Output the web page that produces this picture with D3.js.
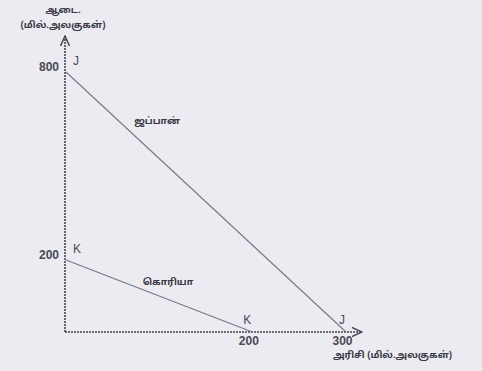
<!DOCTYPE html>
<html>
<head>
<meta charset="utf-8">
<script src="https://cdn.jsdelivr.net/npm/d3@7"></script>
<style>
  html, body { margin: 0; padding: 0; background: #ecebf2; }
  svg { display: block; }
  text { font-family: "Liberation Sans", Arial, sans-serif; fill: #3a3a44; }
  .ta { font-family: "Noto Sans Tamil", "Lohit Tamil", "Noto Sans", sans-serif; }
</style>
</head>
<body>
<svg id="chart" width="482" height="371"></svg>
<script>
// ---- data ----
const countries = ["ஜப்பான்", "கொரியா"];
const countryCodes = ["J", "K"];
const clothMax = [800, 200];   // y-intercepts (million units)
const riceMax = [300, 200];    // x-intercepts (million units)
const xTicks = [200, 300];
const yTicks = [200, 800];
const yTitle = ["ஆடை.", "(மில்.அலகுகள்)"];
const xTitle = "அரிசி  (மில்.அலகுகள்)";

// ---- layout ----
const svg = d3.select("#chart");
const x0 = 65, y0 = 332;
const x = d3.scaleLinear().domain([0, 300]).range([x0, 346]);
// axis in the original is not drawn to scale: piecewise linear scale
const y = d3.scaleLinear().domain([0, 200, 800]).range([y0, 260, 72]);

const axisColor = "#45454f";
const lineColor = "#7a7a86";

// arrow marker
svg.append("defs").append("marker")
  .attr("id", "arr").attr("viewBox", "0 0 10 10")
  .attr("refX", 9).attr("refY", 5)
  .attr("markerWidth", 7).attr("markerHeight", 7)
  .attr("orient", "auto-start-reverse")
  .append("path").attr("d", "M0,1 L9,5 L0,9").attr("fill", "none")
  .attr("stroke", axisColor).attr("stroke-width", 1.3);

// axes lines
svg.append("line").attr("x1", x0).attr("y1", y0).attr("x2", x0).attr("y2", 36)
  .attr("stroke", axisColor).attr("stroke-width", 1.6).attr("stroke-dasharray", "2,1")
  .attr("marker-end", "url(#arr)");
svg.append("line").attr("x1", x0).attr("y1", y0).attr("x2", 362).attr("y2", y0)
  .attr("stroke", axisColor).attr("stroke-width", 1.6).attr("stroke-dasharray", "2,1")
  .attr("marker-end", "url(#arr)");

// tick labels via d3 axes
const xa = svg.append("g").attr("transform", `translate(0,${y0})`)
  .call(d3.axisBottom(x).tickValues(xTicks).tickSize(0).tickPadding(4));
xa.select(".domain").remove();
xa.selectAll("text").attr("dx", -4).style("font-size", "12px").style("font-weight", "bold").style("fill", "#4a4a55");

const ya = svg.append("g").attr("transform", `translate(${x0},0)`)
  .call(d3.axisLeft(y).tickValues(yTicks).tickSize(0).tickPadding(6));
ya.select(".domain").remove();
ya.selectAll("text").attr("dy", "-0.1em").style("font-size", "12px").style("font-weight", "bold").style("fill", "#4a4a55");

// production possibility lines
const rows = countries.map((c, i) => ({ name: c, code: countryCodes[i], cy: clothMax[i], rx: riceMax[i] }));
svg.selectAll("line.ppf").data(rows).enter().append("line")
  .attr("class", "ppf")
  .attr("x1", d => x(0) + 1).attr("y1", d => y(d.cy))
  .attr("x2", d => x(d.rx)).attr("y2", d => y(0))
  .attr("stroke", lineColor).attr("stroke-width", 1.2);

// endpoint letters
rows.forEach(d => {
  svg.append("text").attr("x", x(0) + 8).attr("y", y(d.cy) - 7)
    .style("font-size", "12px").style("fill", "#4a4a55").text(d.code);
  svg.append("text").attr("x", x(d.rx) - (d.rx === 300 ? 7 : 9)).attr("y", y(0) - 8)
    .style("font-size", "12px").style("fill", "#4a4a55").text(d.code);
});

// country labels along lines
const labelPos = [[157, 124], [168, 285]];
rows.forEach((d, i) => {
  svg.append("text").attr("class", "ta").attr("x", labelPos[i][0]).attr("y", labelPos[i][1])
    .attr("text-anchor", "middle").style("font-size", "9.5px").style("font-weight", "bold")
    .text(d.name);
});

// axis titles
svg.append("text").attr("class", "ta").attr("x", 63).attr("y", 13).attr("text-anchor", "middle")
  .style("font-size", "9.5px").style("font-weight", "bold").text(yTitle[0]);
svg.append("text").attr("class", "ta").attr("x", 63).attr("y", 28).attr("text-anchor", "middle")
  .style("font-size", "9.5px").style("font-weight", "bold").text(yTitle[1]);
svg.append("text").attr("class", "ta").attr("x", 333).attr("y", 358)
  .style("font-size", "9.5px").style("font-weight", "bold").text(xTitle);
</script>
</body>
</html>
